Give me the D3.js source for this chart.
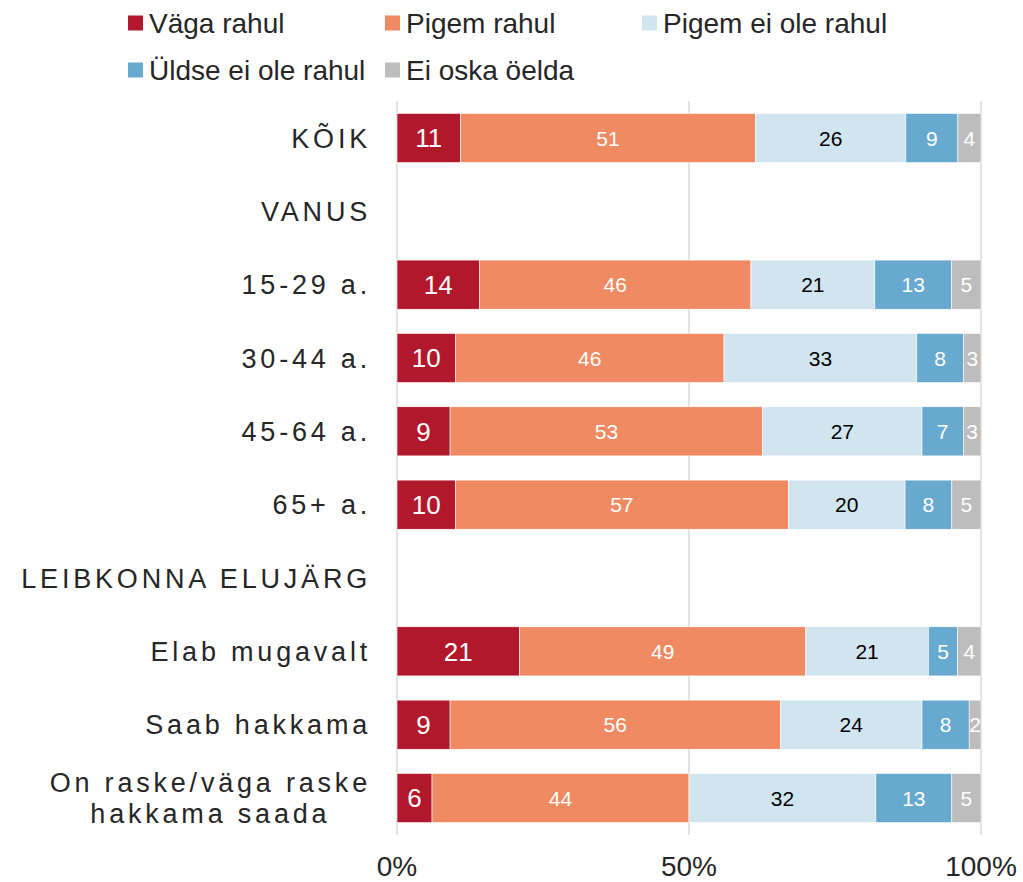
<!DOCTYPE html>
<html>
<head>
<meta charset="utf-8">
<script src="https://cdn.jsdelivr.net/npm/d3@7"></script>
<style>
  body { margin: 0; background: #fff; }
  svg { font-family: "Liberation Sans", Arial, sans-serif; }
</style>
</head>
<body>
<div id="main_div"></div>
<script>
// categories, top to bottom (null values = group header rows)
var categories = ["KÕIK", "VANUS", "15-29 a.", "30-44 a.", "45-64 a.", "65+ a.",
    "LEIBKONNA ELUJÄRG", "Elab mugavalt", "Saab hakkama", "On raske/väga raske\nhakkama saada"];

var series_names = ["Väga rahul", "Pigem rahul", "Pigem ei ole rahul", "Üldse ei ole rahul", "Ei oska öelda"];
var series_colors = ["#b2182b", "#ef8a62", "#d1e5f0", "#67a9cf", "#bdbdbd"];
var label_colors = ["#fff", "#fff", "#000", "#fff", "#fff"];

var vaga_rahul   = [11, null, 14, 10, 9, 10, null, 21, 9, 6];
var pigem_rahul  = [51, null, 46, 46, 53, 57, null, 49, 56, 44];
var pigem_ei_ole = [26, null, 21, 33, 27, 20, null, 21, 24, 32];
var uldse_ei_ole = [9, null, 13, 8, 7, 8, null, 5, 8, 13];
var ei_oska      = [4, null, 5, 3, 3, 5, null, 4, 2, 5];

var x_ticks = [0, 0.5, 1];

var series_values = [vaga_rahul, pigem_rahul, pigem_ei_ole, uldse_ei_ole, ei_oska];

var rows = categories.map(function(c, i) {
    var r = {cat: c};
    series_names.forEach(function(s, j) { r[s] = series_values[j][i] || 0; });
    r.empty = vaga_rahul[i] == null;
    return r;
});

var stacked = d3.stack().keys(series_names).offset(d3.stackOffsetExpand)(rows.filter(function(r) { return !r.empty; }));

var x_scale = d3.scaleLinear().domain([0, 1]).range([397, 981]);
var y_scale = d3.scaleBand().domain(categories).range([101.3, 834.7]).paddingInner(0.33).paddingOuter(0.165);

var svg = d3.select("#main_div").append("svg").attr("width", 1023).attr("height", 882);

// gridlines
svg.append("g").selectAll("line").data(x_ticks).enter().append("line")
    .attr("x1", function(d) { return x_scale(d); })
    .attr("x2", function(d) { return x_scale(d); })
    .attr("y1", 101).attr("y2", 835)
    .attr("stroke", "#d9d9d9").attr("stroke-width", 1.5);

// bars
var layers = svg.append("g").selectAll("g").data(stacked).enter().append("g")
    .attr("fill", function(d, i) { return series_colors[i]; });

layers.selectAll("rect").data(function(d) { return d; }).enter().append("rect")
    .attr("x", function(d) { return x_scale(d[0]); })
    .attr("width", function(d) { return x_scale(d[1]) - x_scale(d[0]); })
    .attr("y", function(d) { return y_scale(d.data.cat); })
    .attr("height", y_scale.bandwidth())
    .attr("stroke", "#fff").attr("stroke-width", 0.6);

// value labels
layers.each(function(layer, i) {
    d3.select(this).selectAll("text").data(layer).enter().append("text")
        .attr("x", function(d) { return (x_scale(d[0]) + x_scale(d[1])) / 2; })
        .attr("y", function(d) { return y_scale(d.data.cat) + y_scale.bandwidth() / 2; })
        .attr("dy", "0.36em")
        .attr("text-anchor", "middle")
        .attr("fill", label_colors[i])
        .attr("font-size", i == 0 ? 26 : 21)
        .text(function(d) { return d.data[layer.key]; });
});

// category labels
var cat_g = svg.append("g").selectAll("text").data(categories).enter().append("text")
    .attr("font-size", 27).attr("letter-spacing", "3.8px").attr("fill", "#262626");

cat_g.each(function(c) {
    var lines = c.split("\n");
    var t = d3.select(this);
    var cy = y_scale(c) + y_scale.bandwidth() / 2;
    if (lines.length == 1) {
        t.attr("x", 371).attr("y", cy).attr("dy", "0.36em").attr("text-anchor", "end").text(c);
    } else {
        var spans = t.selectAll("tspan").data(lines).enter().append("tspan")
            .text(function(d) { return d; });
        var w = d3.max(spans.nodes(), function(n) { return n.getComputedTextLength(); });
        t.attr("text-anchor", "middle");
        spans.attr("x", 371 - w / 2)
            .attr("y", function(d, k) { return cy + (k - (lines.length - 1) / 2) * 31; })
            .attr("dy", "0.36em");
    }
});

// x axis labels
svg.append("g").selectAll("text").data(x_ticks).enter().append("text")
    .attr("x", function(d) { return x_scale(d); })
    .attr("y", 866).attr("dy", "0.36em")
    .attr("text-anchor", "middle")
    .attr("font-size", 28).attr("fill", "#262626")
    .text(function(d) { return d3.format(".0%")(d); });

// legend
var legend_pos = [[128, 23], [385, 23], [642, 23], [128, 70], [385, 70]];
var leg = svg.append("g").selectAll("g").data(series_names).enter().append("g")
    .attr("transform", function(d, i) { return "translate(" + legend_pos[i][0] + "," + legend_pos[i][1] + ")"; });
leg.append("rect").attr("x", 0).attr("y", -7.5).attr("width", 15).attr("height", 15)
    .attr("fill", function(d, i) { return series_colors[i]; });
leg.append("text").attr("x", 21).attr("y", 0).attr("dy", "0.36em")
    .attr("font-size", 28).attr("fill", "#262626")
    .text(function(d) { return d; });
</script>
</body>
</html>
